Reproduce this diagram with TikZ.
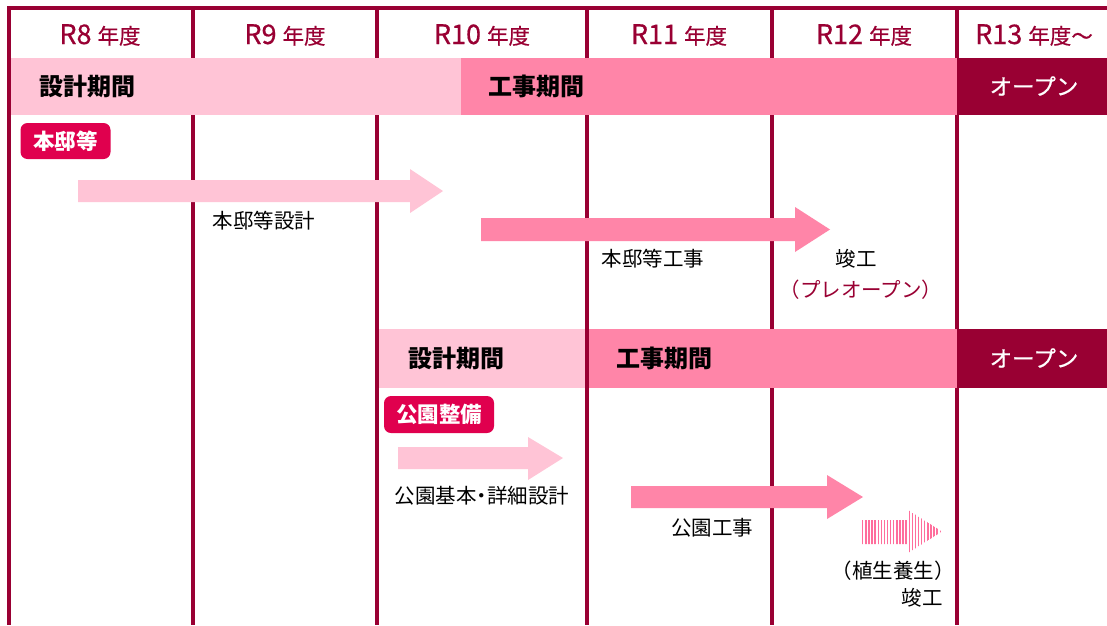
\documentclass[tikz,border=0pt]{standalone}
\usepackage{fontspec}
\setmainfont{Noto Sans CJK JP}
\newfontfamily\medfont[FakeBold=0.6]{Noto Sans CJK JP}
\definecolor{crim}{HTML}{990033}
\definecolor{lpink}{HTML}{FFC4D6}
\definecolor{mpink}{HTML}{FF85A8}
\definecolor{tagc}{HTML}{E0004E}
\definecolor{stripe}{HTML}{FF6E9C}
\tikzset{
  grid/.style={draw=crim,line width=3.5pt},
  hdr/.style={text=crim,inner sep=0pt,anchor=center},
  band/.style={inner sep=0pt,font=\fontsize{24}{24}\selectfont\bfseries},
  openlbl/.style={inner sep=0pt,text=white,font=\medfont\fontsize{22.5}{22.5}\selectfont},
  tagbox/.style={fill=tagc,rounded corners=7pt,text=white,font=\fontsize{21.5}{21.5}\selectfont\bfseries,inner sep=0pt},
  lbl/.style={inner sep=0pt,font=\fontsize{20.5}{20.5}\selectfont},
}
\newcommand{\yr}[2]{\medfont\fontsize{27}{27}\selectfont #1\hspace{6pt}{\fontsize{21.5}{21.5}\selectfont 年度#2}}
\begin{document}
\begin{tikzpicture}[x=1pt,y=-1pt]
\useasboundingbox (0,0) rectangle (1107,625);
\fill[white] (0,0) rectangle (1107,625);
% grid lines
\draw[grid] (7.3,8) -- (1107,8);
\foreach \x in {9,193,377,587,772,957} \draw[grid] (\x,8) -- (\x,625);
% header
\node[hdr] (h8) at (100,35) {\yr{R8}{}};
\node[hdr] (h9) at (285,35) {\yr{R9}{}};
\node[hdr] (h10) at (482,35) {\yr{R10}{}};
\node[hdr] (h11) at (679,35) {\yr{R11}{}};
\node[hdr] (h12) at (864,35) {\yr{R12}{}};
\node[hdr] (h13) at (1034,35) {\yr{R13}{～}};
% band 1
\fill[lpink] (11,57.5) rectangle (461,115);
\fill[mpink] (461,57.5) rectangle (957,115);
\fill[crim] (957,57.5) rectangle (1107,115);
\node[band,anchor=west] (d1) at (39,86) {設計期間};
\node[band,anchor=west] (k1) at (488,86) {工事期間};
\node[openlbl] (o1) at (1034,86) {オープン};
% band 2
\fill[lpink] (379,329) rectangle (585,388);
\fill[mpink] (589,329) rectangle (957,388);
\fill[crim] (957,329) rectangle (1107,388);
\node[band,anchor=west] (d2) at (408,358) {設計期間};
\node[band,anchor=west] (k2) at (616,358) {工事期間};
\node[openlbl] (o2) at (1034,358) {オープン};
% tags
\node[tagbox,minimum width=90pt,minimum height=36pt] (t1) at (65.5,141) {本邸等};
\node[tagbox,minimum width=110pt,minimum height=37pt] (t2) at (439,414.5) {公園整備};
% arrows
\fill[lpink] (78,180) -- (410,180) -- (410,169) -- (443,191) -- (410,213) -- (410,202) -- (78,202) -- cycle;
\fill[mpink] (481,218) -- (795,218) -- (795,207) -- (830,229.5) -- (795,252) -- (795,241) -- (481,241) -- cycle;
\fill[lpink] (398,447) -- (528,447) -- (528,437) -- (563,458) -- (528,480) -- (528,469) -- (398,469) -- cycle;
\fill[mpink] (631,486) -- (827,486) -- (827,475) -- (863,497) -- (827,519) -- (827,508) -- (631,508) -- cycle;
\begin{scope}
\clip (862,520) -- (908,520) -- (908,510) -- (942,531.5) -- (908,553) -- (908,544) -- (862,544) -- cycle;
\foreach \i in {0,...,26} \fill[stripe] ({862+\i*3.1},505) rectangle ({863.4+\i*3.1},560);
\end{scope}
% labels
\node[lbl] (l1) at (264,221) {本邸等設計};
\node[lbl] (l2) at (653,259) {本邸等工事};
\node[lbl] (l3) at (856,259) {竣工};
\node[lbl,text=crim] (l4) at (861,290) {（プレオープン）};
\node[lbl] (l5) at (482,496) {公園基本\hspace{-5pt}・\hspace{-5pt}詳細設計};
\node[lbl] (l6) at (712,528) {公園工事};
\node[lbl] (l7) at (893,571) {（植生養生）};
\node[lbl] (l8) at (922,598) {竣工};
\end{tikzpicture}
\end{document}
